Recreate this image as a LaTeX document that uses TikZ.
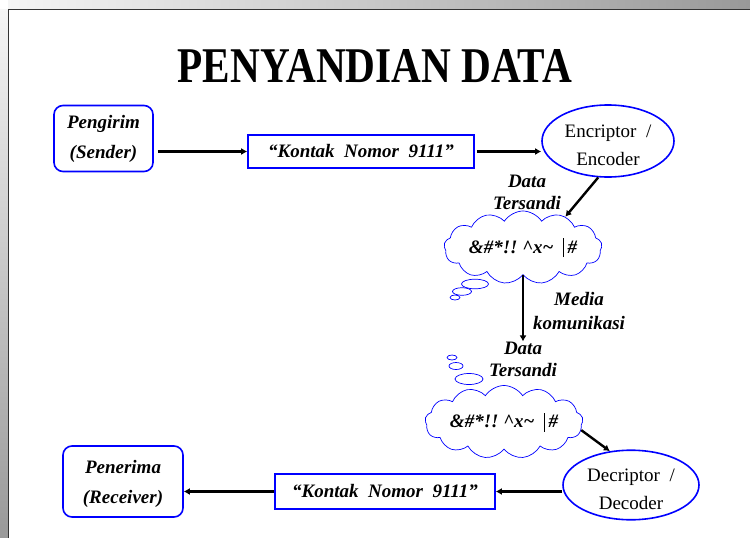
\documentclass[tikz,border=0pt]{standalone}
\usepackage{graphicx}
\usepackage{fontspec}
\setmainfont{Liberation Serif}
\usetikzlibrary{shapes.geometric,shapes.symbols,arrows.meta}
\begin{document}
\begin{tikzpicture}[x=1pt,y=-1pt,
  bi/.style={font=\bfseries\itshape\fontsize{19}{#1}\selectfont, align=center},
  bi/.default=22,
  rbox/.style={draw=blue, line width=1.6pt, rounded corners=9pt, bi=30, inner sep=0pt},
  msgbox/.style={draw=blue, line width=1.6pt, bi, inner sep=0pt},
  oval/.style={ellipse, draw=blue, line width=1.6pt, inner sep=0pt,
    font=\fontsize{19}{28}\selectfont, align=center},
  thought/.style={cloud, draw=blue, line width=0.7pt, cloud puffs=13,
    cloud puff arc=115, aspect=2.8, inner sep=0pt, bi},
  bubble/.style={draw=blue, line width=0.7pt, fill=white},
  arr/.style={draw=black, line width=2.4pt, -{Latex[length=6pt,width=7pt]}},
  lbl/.style={bi=#1, inner sep=0pt},
]
\useasboundingbox (0,0) rectangle (750,538);
\fill[white] (0,0) rectangle (750,538);
% slide frame
\shade[left color=black!4, right color=black!40] (8,0) rectangle (750,9);
\shade[top color=black!4, bottom color=black!40] (0,9) rectangle (8,538);
\draw[black!80, line width=1.3pt] (8.7,538) -- (8.7,9.7) -- (750,9.7);

% title
\node (title) at (375,66.5) {\scalebox{0.825}[1]{\fontsize{50}{50}\selectfont\bfseries PENYANDIAN DATA}};

% top row
\node[rbox, minimum width=99, minimum height=66] (send) at (103.5,138.5) {Pengirim\\(Sender)};
\node[msgbox, minimum width=226, minimum height=33] (msg1) at (361,151.5) {\char"201C Kontak\ \ Nomor\ \ 9111\char"201D};
\node[oval, minimum width=132, minimum height=72] (enc) at (608,141) {\rule{0pt}{21pt}Encriptor\ \ /\\Encoder};

% cloud 1 with thought bubbles
\draw[bubble] (455,297.5) ellipse [x radius=5, y radius=2.5];
\draw[bubble] (462,291.5) ellipse [x radius=9.5, y radius=3.8];
\draw[bubble] (475,284) ellipse [x radius=13.5, y radius=4.8];
\node[thought, minimum width=158, minimum height=56] (c1) at (523,247.5)
  {\&\#*!!\ \textasciicircum x\textasciitilde\ \ \textup{\rule[-4pt]{1.4pt}{19pt}}\,\#};
\node[lbl=22] (d1) at (527,192) {Data\\Tersandi};
\node[lbl=24] (media) at (579,311) {Media\\komunikasi};
\node[lbl=22] (d2) at (523,359) {Data\\Tersandi};

% cloud 2 with thought bubbles
\draw[bubble] (452,357.5) ellipse [x radius=5, y radius=2.5];
\draw[bubble] (456,366) ellipse [x radius=7, y radius=3.5];
\draw[bubble] (469,379) ellipse [x radius=14, y radius=5.5];
\node[thought, minimum width=158, minimum height=54] (c2) at (504,422)
  {\&\#*!!\ \textasciicircum x\textasciitilde\ \ \textup{\rule[-4pt]{1.4pt}{19pt}}\,\#};

% bottom row
\node[oval, minimum width=136, minimum height=66] (dec) at (631,485) {\rule{0pt}{21pt}Decriptor\ \ /\\Decoder};
\node[msgbox, minimum width=220, minimum height=35] (msg2) at (385,491.5) {\char"201C Kontak\ \ Nomor\ \ 9111\char"201D};
\node[rbox, minimum width=120, minimum height=71] (recv) at (123,481.5) {\rule{0pt}{19pt}Penerima\\(Receiver)};

% connectors
\draw[arr, shorten <=4pt] (send.east |- msg1.center) -- (msg1.west);
\draw[arr, shorten <=2pt] (msg1.east) -- (enc.west |- msg1.center);
\draw[arr] (enc.-105) -- (c1.36);
\draw[arr, line width=1.6pt] (c1.south) -- (c1.south |- d2.north);
\draw[arr] (c2.-6) -- (dec.122);
\draw[arr] (dec.west |- msg2.center) -- (msg2.east);
\draw[arr] (msg2.west) -- (recv.east |- msg2.center);
\end{tikzpicture}
\end{document}
